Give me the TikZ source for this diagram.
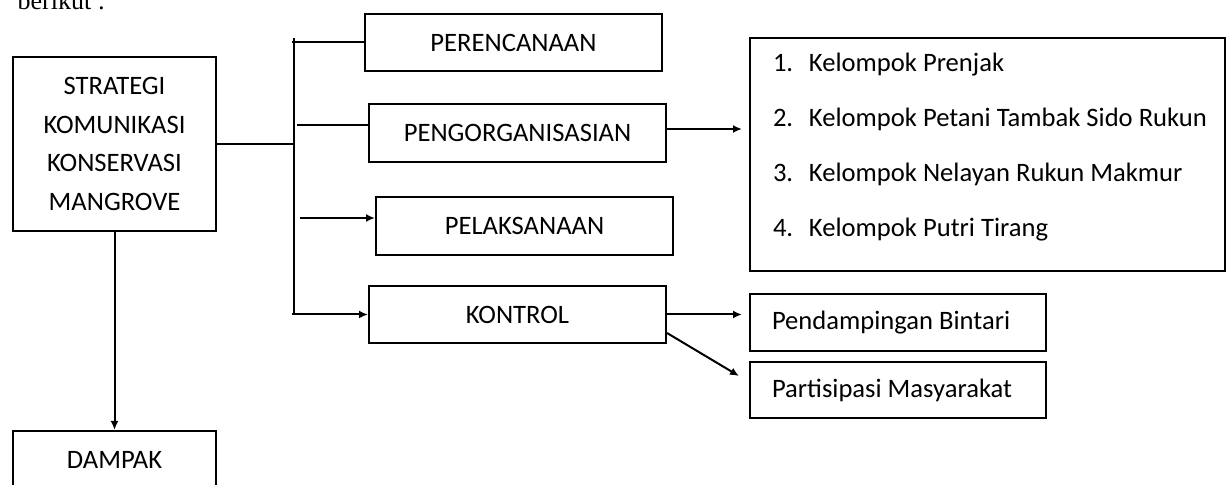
\documentclass[tikz,border=0pt]{standalone}
\usepackage{fontspec}
\setmainfont{Carlito}
\newfontfamily\pagefont{Liberation Serif}
\usepackage{tikz}
\usetikzlibrary{arrows.meta}

\tikzset{
  box/.style={draw, line width=1pt, inner sep=0pt, minimum width=148.5pt, minimum height=28.75pt},
  arr/.style={-{Latex[length=4.5pt,width=4pt]}},
}

\begin{document}
\begin{tikzpicture}[font=\fontsize{13.3}{19.3}\selectfont, x=0.5pt, y=-0.5pt, line width=1pt]
\useasboundingbox (0,0) rectangle (1227,485);
\node[anchor=base west, font=\pagefont\fontsize{13}{16}\selectfont] (intro) at (10,9.5) {berikut :};

\node[box, minimum width=101.5pt, minimum height=87pt, align=center] (strat) at (114.5,144)
  {STRATEGI\\KOMUNIKASI\\KONSERVASI\\MANGROVE};
\node[box, minimum width=101.5pt, minimum height=29pt] (dampak) at (114.5,460) {DAMPAK};

\foreach \name/\cx/\cy/\txt in {
plan/513.5/42.5/PERENCANAAN,
org/517.5/133/PENGORGANISASIAN,
impl/524.5/226/PELAKSANAAN,
ctrl/517.5/314.5/KONTROL} {
  \node[box] (\name) at (\cx,\cy) {\txt};
}

\node[box, minimum width=237.5pt, minimum height=116.5pt] (lst) at (987.5,154.5) {};
\node[anchor=west, align=left, inner sep=0pt, font=\fontsize{13.3}{27.5}\selectfont] (lsttxt) at (772,147.5)
  {\makebox[18pt][l]{1.}Kelompok Prenjak\\
   \makebox[18pt][l]{2.}Kelompok Petani Tambak Sido Rukun\\
   \makebox[18pt][l]{3.}Kelompok Nelayan Rukun Makmur\\
   \makebox[18pt][l]{4.}Kelompok Putri Tirang};

\node[box, minimum width=148pt, minimum height=28.5pt] (pend) at (898,322.5) {\makebox[126pt][l]{Pendampingan Bintari}};
\node[box, minimum width=148pt, minimum height=28pt] (part) at (898,390) {\makebox[126pt][l]{Partisipasi Masyarakat}};

% bus
\coordinate (bustop) at (294,38);
\coordinate (busbot) at (294,314);
\coordinate (j1) at (292,42.5);
\coordinate (j2) at (297,125);
\coordinate (j3) at (300,218);
\coordinate (j4) at (292,314.5);
\draw (bustop) -- (busbot);
\draw (strat.east) -- (strat.east -| bustop);
\draw (j1) -- (j1 -| plan.west);
\draw (j2) -- (j2 -| org.west);
\draw[arr] (j3) -- (j3 -| impl.west);
\draw[arr] (j4) -- (j4 -| ctrl.west);

\draw[arr] (strat.south) -- (dampak.north);
\draw[arr, shorten >=3.5pt] ([yshift=2pt]org.east) -- ([yshift=2pt]org.east -| lst.west);
\draw[arr, shorten >=3.5pt] (ctrl.east) -- (ctrl.east -| pend.west);
\draw[arr] ([yshift=-9.25pt]ctrl.east) -- ([xshift=-5pt,yshift=7pt]part.west);
\end{tikzpicture}
\end{document}
